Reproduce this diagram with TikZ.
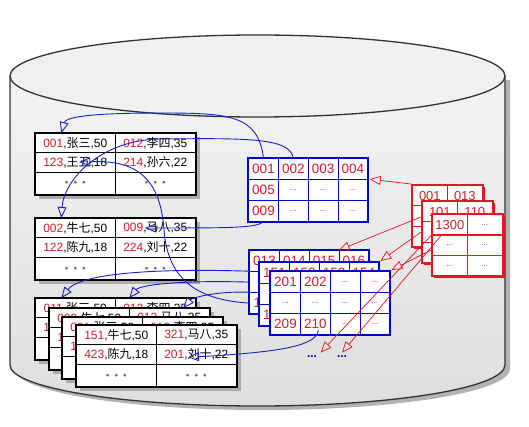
\documentclass[tikz,border=0pt]{standalone}
\usepackage{fontspec}
\setmainfont{Liberation Sans}
\newfontfamily\cjk{Noto Sans CJK SC}
\usetikzlibrary{arrows.meta,matrix,shadows}
\definecolor{numred}{RGB}{210,30,40}
\definecolor{linkblue}{RGB}{30,30,200}
\definecolor{gridblue}{RGB}{0,0,200}
\definecolor{gridred}{RGB}{230,20,30}
\definecolor{dotgray}{RGB}{110,110,110}
\definecolor{drumline}{RGB}{50,50,50}
\newcommand{\rec}[3]{\textcolor{numred}{#1},{\cjk #2},#3}
\newcommand{\tdot}{\textcolor{dotgray}{\scalebox{0.6}{$\bullet$}}}
\newcommand{\tdots}{\tdot\hspace{5pt}\tdot\hspace{5pt}\tdot}
\newcommand{\celldots}{{\fontsize{8}{8}\selectfont...}}
\tikzset{
  rec table/.style={matrix of nodes,draw=black,line width=2pt,fill=white,
    inner sep=0pt,column sep=-0.6pt,row sep=-0.6pt,
    drop shadow={shadow xshift=4pt,shadow yshift=-4pt,fill=gray!65,opacity=1},
    nodes={draw,line width=0.6pt,minimum width=80pt,minimum height=19.3pt,
      inner sep=0pt,anchor=center,font=\fontsize{12}{12}\selectfont},
    row 3/.style={nodes={minimum height=23pt}}},
  idx table/.style={matrix of nodes,draw=gridblue,line width=2.4pt,fill=white,
    inner sep=0pt,column sep=-0.8pt,row sep=-0.8pt,
    nodes={draw=gridblue,line width=0.8pt,minimum width=29.8pt,minimum height=21pt,
      inner sep=0pt,anchor=center,text=numred,font=\fontsize{13.5}{13.5}\selectfont}},
  red table/.style={matrix of nodes,draw=gridred,line width=2pt,fill=white,
    inner sep=0pt,column sep=-0.7pt,row sep=-0.7pt,
    drop shadow={shadow xshift=2pt,shadow yshift=-2pt,fill=gridred,opacity=1},
    nodes={draw=gridred,line width=0.7pt,minimum width=35pt,minimum height=20.5pt,
      inner sep=0pt,anchor=center,text=numred,font=\fontsize{13}{13}\selectfont}},
  blue link/.style={linkblue,line width=0.9pt,-{Triangle[open,length=11pt,width=9pt]}},
  red link/.style={gridred,line width=0.7pt,-{Triangle[open,length=11pt,width=9pt]}}
}

\begin{document}
\begin{tikzpicture}[x=1pt,y=-1pt]
  \useasboundingbox (0,0) rectangle (529,427);
  % disk
  \fill[gray!60,shift={(5,4)}] (10,76) -- (10,365)
    arc[start angle=180,end angle=0,x radius=247.5,y radius=41] -- (505,76) -- cycle;
  \shade[top color=gray!9,bottom color=gray!26] (10,76) -- (10,365)
    arc[start angle=180,end angle=0,x radius=247.5,y radius=41] -- (505,76) -- cycle;
  \draw[drumline,line width=1.3pt] (10,76) -- (10,365)
    arc[start angle=180,end angle=0,x radius=247.5,y radius=41] -- (505,76);
  \draw[drumline,line width=1.3pt,fill=gray!12] (257.5,76) ellipse[x radius=247.5,y radius=41];

  % data pages
  \matrix (t1) [rec table,anchor=north west] at (34,132) {
    \rec{001}{张三}{50} & \rec{012}{李四}{35}\\
    \rec{123}{王五}{18} & \rec{214}{孙六}{22}\\
    \tdots & \tdots\\
  };
  \matrix (t2) [rec table,anchor=north west] at (34,217) {
    \rec{002}{牛七}{50} & \rec{009}{马八}{35}\\
    \rec{122}{陈九}{18} & \rec{224}{刘十}{22}\\
    \tdots & \tdots\\
  };
  \matrix (s1) [rec table,anchor=north west] at (34,297) {
    \rec{011}{张三}{50} & \rec{012}{李四}{35}\\
    \rec{123}{王五}{18} & \rec{214}{孙六}{22}\\
    \tdots & \tdots\\
  };
  \matrix (s2) [rec table,anchor=north west] at (48,307) {
    \rec{009}{牛七}{50} & \rec{012}{马八}{35}\\
    \rec{122}{陈九}{18} & \rec{224}{刘十}{22}\\
    \tdots & \tdots\\
  };
  \matrix (s3) [rec table,anchor=north west] at (61,316) {
    \rec{001}{张三}{50} & \rec{012}{李四}{35}\\
    \rec{123}{王五}{18} & \rec{214}{孙六}{22}\\
    \tdots & \tdots\\
  };
  \matrix (s4) [rec table,anchor=north west] at (75,324) {
    \rec{151}{牛七}{50} & \rec{321}{马八}{35}\\
    \rec{423}{陈九}{18} & \rec{201}{刘十}{22}\\
    \tdots & \tdots\\
  };

  % index pages
  \matrix (ix) [idx table,anchor=north west] at (247,157) {
    001 & 002 & 003 & 004\\
    005 & \celldots & \celldots & \celldots\\
    009 & \celldots & \celldots & \celldots\\
  };
  \matrix (ib1) [idx table,anchor=north west] at (248,249) {
    013 & 014 & 015 & 016\\
    \celldots & \celldots & \celldots & \celldots\\
    113 & \celldots & \celldots & \celldots\\
  };
  \matrix (ib2) [idx table,anchor=north west] at (258,261) {
    151 & 152 & 153 & 154\\
    \celldots & \celldots & \celldots & \celldots\\
    159 & \celldots & \celldots & \celldots\\
  };
  \matrix (ib3) [idx table,anchor=north west] at (269,270) {
    201 & 202 & \celldots & \celldots\\
    \celldots & \celldots & \celldots & \celldots\\
    209 & 210 & \celldots & \celldots\\
  };
  \node[text=gridblue,font=\bfseries\fontsize{12}{12}\selectfont] (more1) at (312,357) {...};
  \node[text=gridblue,font=\bfseries\fontsize{12}{12}\selectfont] (more2) at (342,357) {...};

  % root pages
  \matrix (rt1) [red table,anchor=north west] at (411,184) {
    001 & 013\\
    \celldots & \celldots\\
    \celldots & \celldots\\
  };
  \matrix (rt2) [red table,anchor=north west] at (421,200) {
    101 & 110\\
    \celldots & \celldots\\
    \celldots & \celldots\\
  };
  \matrix (rt3) [red table,anchor=north west] at (431,213) {
    1300 & \celldots\\
    \celldots & \celldots\\
    \celldots & \celldots\\
  };

  % pointers
  \draw[blue link] (ix-1-1.north) .. controls (258,115) and (230,113) .. (160,113)
    .. controls (100,113) and (66,116) .. ([xshift=-14pt]t1-1-1.north);
  \draw[blue link] (ix-1-2.north) .. controls (290,138) and (250,138) .. (160,139)
    .. controls (100,140) and (64,180) .. ([xshift=-14pt]t2-1-1.north);
  \draw[blue link] (ix-3-1.south) .. controls (255,228) and (230,228) .. ([xshift=30pt]t2-1-2.west);
  \draw[blue link] (ib1-2-1.north west) .. controls (150,268) and (80,274) .. ([xshift=-14pt]s1-1-1.north);
  \draw[blue link] (ib1-2-1.west) .. controls (180,280) and (140,285) .. ([xshift=-26pt]s1-1-2.north);
  \draw[blue link] (ib1-3-1.north west) .. controls (215,291) and (192,298) .. ([xshift=14pt]s2-1-2.north);
  \draw[blue link] (ib1-3-1.west) .. controls (200,300) and (168,282) .. (164,230)
    .. controls (160,172) and (130,160) .. ([xshift=4pt]t1-2-1.center);
  \draw[blue link] ([xshift=3pt,yshift=-6pt]ib3-3-2.center) .. controls (317,345) and (285,352)
    .. ([xshift=32pt,yshift=-3pt]s4-2-2.west);

  \draw[red link] (rt1.north west) -- ([xshift=1.5pt]ix-2-4.north east);
  \draw[red link] ([yshift=-17pt]rt2.north west) -- (ib1-1-4.north west);
  \draw[red link] (rt2.west) -- (ib2.north east);
  \draw[red link] ([yshift=-5pt]rt3.west) -- (ib3.north east);
  \draw[red link] (rt3-2-1.north west) -- (more1.north east);
  \draw[red link] ([xshift=10pt]rt3-2-1.north west) -- (more2.north);
\end{tikzpicture}
\end{document}
